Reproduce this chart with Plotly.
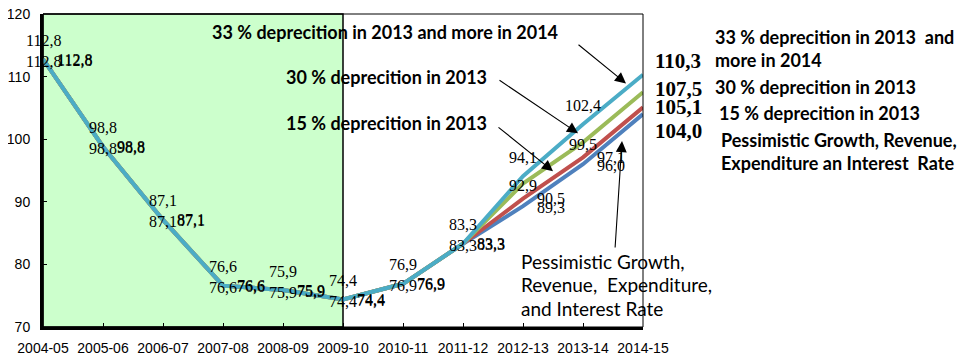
import plotly.graph_objects as go

# categories (fiscal years)
years = ["2004-05", "2005-06", "2006-07", "2007-08", "2008-09", "2009-10",
         "2010-11", "2011-12", "2012-13", "2013-14", "2014-15"]

# common history up to 2011-12
hist = [112.8, 98.8, 87.1, 76.6, 75.9, 74.4, 76.9, 83.3]

# scenarios
pess = hist + [89.3, 96.0, 104.0]
dep15 = hist + [90.5, 97.1, 105.1]
dep30 = hist + [92.9, 99.5, 107.5]
dep33 = hist + [94.1, 102.4, 110.3]

series_names = ["Pessimistic", "15 % deprecition in 2013",
                "30 % deprecition in 2013", "33 % deprecition in 2013 and more in 2014"]
series_vals = [pess, dep15, dep30, dep33]
series_cols = ["#4F81BD", "#C0504D", "#9BBB59", "#4BACC6"]

# text blocks (one entry per line)
callout_33 = "33 % deprecition in 2013 and more in 2014"
callout_30 = "30 % deprecition in 2013"
callout_15 = "15 % deprecition in 2013"
callout_pess = ["Pessimistic Growth,", "Revenue,  Expenditure,", "and Interest Rate"]
legend_lines = ["33 % deprecition in 2013  and", "more in 2014",
                "30 % deprecition in 2013", "15 % deprecition in 2013",
                "Pessimistic Growth, Revenue,", "Expenditure an Interest  Rate"]

# label placement (pixel shifts) per series: (xanchor, xshift, yshift)
label_pos = [("left", 12, -1), ("left", 12, 0), ("center", 0, -2), ("center", 0, 19)]
last_shift = [-17, 0, 3, 14]

SERIF = "Liberation Serif, Times New Roman, serif"
SANS = "Lato, Calibri, sans-serif"
ARIAL = "Liberation Sans, Arial, sans-serif"


def fmt(v):
    return f"{v:.1f}".replace(".", ",")


fig = go.Figure()

for name, vals, col in zip(series_names, series_vals, series_cols):
    fig.add_trace(go.Scatter(x=list(range(len(years))), y=vals, mode="lines",
                             name=name, line=dict(color=col, width=4),
                             showlegend=False))

ann = []
# data labels
for k, vals in enumerate(series_vals):
    xa, xs, ys = label_pos[k]
    for i, v in enumerate(vals[:-1]):
        ann.append(dict(x=i, y=v, xref="x", yref="y", text=fmt(v), showarrow=False,
                        xanchor=xa, yanchor="middle", xshift=xs, yshift=ys,
                        font=dict(family=SERIF, size=16, color="black")))
    ann.append(dict(x=len(vals) - 1, y=vals[-1], xref="x", yref="y",
                    text="<b>" + fmt(vals[-1]) + "</b>", showarrow=False,
                    xanchor="left", yanchor="middle", xshift=10, yshift=last_shift[k],
                    font=dict(family=SERIF, size=21, color="black")))

# callout texts inside the plot
bold_font = dict(family=SANS, size=18, color="black")
for txt, px, py in [(callout_33, 0.57, 0.9425), (callout_30, 0.5733, 0.7987),
                    (callout_15, 0.5733, 0.6518)]:
    ann.append(dict(x=px, y=py, xref="paper", yref="paper", showarrow=False,
                    xanchor="center", yanchor="middle", text="<b>" + txt + "</b>",
                    font=bold_font))
for txt, py in zip(callout_pess, [0.2077, 0.1342, 0.0607]):
    ann.append(dict(x=0.793, y=py, xref="paper", yref="paper", showarrow=False,
                    xanchor="left", yanchor="middle", text=txt,
                    font=dict(family=SANS, size=19, color="black")))

# arrows (head x in category units, head y in data units, tail offset in px)
arrows = [(9.717, 108.9, -49, -40), (8.917, 100.95, -80, -54),
          (8.5, 94.9, -56, -45), (9.65, 99.7, -7, 108)]
for x, y, ax, ay in arrows:
    ann.append(dict(x=x, y=y, xref="x", yref="y", ax=ax, ay=ay, text="",
                    showarrow=True, arrowhead=2, arrowsize=2, arrowwidth=1.1,
                    arrowcolor="black"))

# legend-like texts on the right
leg_pos = [(1.1167, 0.9265), (1.1167, 0.8530), (1.1167, 0.7668),
           (1.1233, 0.6837), (1.1267, 0.5974), (1.1267, 0.5240)]
for txt, (px, py) in zip(legend_lines, leg_pos):
    ann.append(dict(x=px, y=py, xref="paper", yref="paper", showarrow=False,
                    xanchor="left", yanchor="middle", text="<b>" + txt + "</b>",
                    font=bold_font))

fig.update_layout(
    width=964, height=349,
    margin=dict(l=35, r=329, t=6, b=30),
    paper_bgcolor="white", plot_bgcolor="white",
    annotations=ann,
    shapes=[
        # green shaded history period
        dict(type="rect", xref="x", yref="paper", x0=0, x1=5, y0=0, y1=1,
             fillcolor="#CCFFCC", line=dict(color="black", width=1.5), layer="below"),
        # thin frame
        dict(type="rect", xref="paper", yref="paper", x0=0, x1=1, y0=0, y1=1,
             line=dict(color="black", width=1)),
    ],
    xaxis=dict(range=[0, 10], tickmode="array", tickvals=list(range(len(years))),
               ticktext=years, showgrid=False, zeroline=False, automargin=False,
               showline=True, linecolor="black", linewidth=3,
               ticks="inside", ticklen=4, tickcolor="black", ticklabelstandoff=6,
               ticklabeloverflow="allow",
               tickfont=dict(family=ARIAL, size=14, color="black")),
    yaxis=dict(range=[70, 120], dtick=10, showgrid=False, zeroline=False,
               automargin=False,
               showline=True, linecolor="black", linewidth=3,
               ticks="inside", ticklen=4, tickcolor="black", ticklabelstandoff=7,
               ticklabeloverflow="allow",
               tickfont=dict(family=ARIAL, size=14, color="black")),
)

fig.write_html("out.html")
